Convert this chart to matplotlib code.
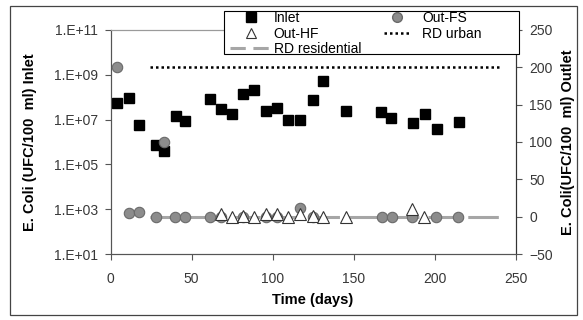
#%%
import numpy as np
import matplotlib.pyplot as plt
from matplotlib.lines import Line2D
from matplotlib.patches import Rectangle

plt.rcParams['font.family'] = ['Liberation Sans', 'DejaVu Sans']

# ---- donnees ----
# Inlet (axe gauche, log)
inlet_days = [3.7, 11.5, 17.7, 27.8, 32.9, 40.1, 46.1, 61.1, 68.1, 74.9, 81.7, 88.7,
              95.9, 102.7, 109.7, 117.1, 124.8, 131.3, 145.2, 167.0, 172.9, 186.9,
              194.3, 201.4, 215.3]
inlet_log = [7.75, 7.95, 6.75, 5.85, 5.60, 7.15, 6.95, 7.92, 7.49, 7.26, 8.14, 8.32,
             7.38, 7.53, 7.00, 6.97, 7.88, 8.72, 7.38, 7.34, 7.06, 6.83, 7.26, 6.59, 6.91]
inlet = [10 ** v for v in inlet_log]

# Out-FS (axe droit)
fs_days = [4.1, 11.5, 17.7, 28.0, 32.9, 39.7, 45.9, 61.1, 68.0, 81.5, 95.9, 102.7,
           116.9, 124.8, 167.4, 173.6, 185.9, 201.0, 214.7]
fs_vals = [200, 5, 6, 0, 100, 0, 0, 0, 0, 0, 0, 0, 11, 0, 0, 0, 0, 0, 0]

# Out-HF (axe droit)
hf_days = [68.1, 74.7, 81.5, 88.7, 95.9, 102.7, 109.7, 117.1, 124.8, 131.3, 145.2,
           186.0, 193.7]
hf_vals = [4, 0, 1, 0, 3, 4, 0, 3, 1, 0, 0, 10, 0]

# lignes de reference
rd_urban_x = [24, 240]
rd_urban_y = [200, 200]
rd_res_x = [24, 243]
rd_res_y = [0, 0]

x_ticks = [0, 50, 100, 150, 200, 250]
left_ticks = [1e1, 1e3, 1e5, 1e7, 1e9, 1e11]
left_labels = ['1.E+01', '1.E+03', '1.E+05', '1.E+07', '1.E+09', '1.E+11']
right_ticks = [-50, 0, 50, 100, 150, 200, 250]

#%%
W, H = 583, 320
fig = plt.figure(figsize=(W / 100, H / 100), dpi=100)
ax = fig.add_axes([110.7 / W, 1 - 254 / H, (515.5 - 110.7) / W, (254 - 30) / H])
ax2 = ax.twinx()

tick_col = '#383838'
fs_face, fs_edge = '#8c8c8c', '#6a6a6a'
res_col = '#a6a6a6'

# Inlet
ax.plot(inlet_days, inlet, ls='none', marker='s', ms=7, mfc='black', mec='black',
        zorder=3)
ax.set_yscale('log')
ax.set_ylim(1e1, 1e11)
ax.set_yticks(left_ticks)
ax.set_yticklabels(left_labels)
ax.minorticks_off()
ax.set_xlim(0, 250)
ax.set_xticks(x_ticks)

# axe droit
ax2.plot(rd_res_x, rd_res_y, color=res_col, lw=2.2, dashes=(10, 3), zorder=1)
ax2.plot(rd_urban_x, rd_urban_y, color='black', lw=1.8, ls=(0, (1, 1.2)), zorder=1)
ax2.plot(fs_days, fs_vals, ls='none', marker='o', ms=7.5,
         mfc=fs_face, mec=fs_edge, mew=0.8, zorder=3)
ax2.plot(hf_days, hf_vals, ls='none', marker='^', ms=8, mfc='white', mec='#333333',
         mew=0.8, zorder=4)
ax2.set_ylim(-50, 250)
ax2.set_yticks(right_ticks)

# style des axes
for a in (ax, ax2):
    a.spines['top'].set_color('#9a9a9a')
    a.spines['left'].set_color('#555555')
    a.spines['right'].set_color('#333333')
    a.spines['bottom'].set_color('#555555')
    a.tick_params(direction='out', length=4, width=0.8, colors='#555555',
                  labelcolor=tick_col, labelsize=10)
ax.tick_params(axis='x', pad=9)
ax.tick_params(axis='y', pad=5)
ax2.tick_params(axis='y', pad=6)

ax.set_xlabel('Time (days)', fontsize=10.5, fontweight='bold', labelpad=5)
ax.set_ylabel('E. Coli (UFC/100  ml) Inlet', fontsize=10.5, fontweight='bold',
              labelpad=12)
ax2.set_ylabel('E. Coli(UFC/100  ml) Outlet', fontsize=10.5, fontweight='bold',
               labelpad=6)

# legende : cadre dessine a part + deux colonnes sans cadre
fig.patches.append(Rectangle((224 / W, 1 - 54 / H), (519 - 224) / W, (54 - 10.7) / H,
                             transform=fig.transFigure, facecolor='white',
                             edgecolor='black', lw=0.8, zorder=4))

h_inlet = Line2D([], [], ls='none', marker='s', ms=7, mfc='black', mec='black')
h_hf = Line2D([], [], ls='none', marker='^', ms=7.5, mfc='white', mec='#333333', mew=0.8)
h_res = Line2D([], [], color=res_col, lw=2.2, dashes=(5, 2.5))
h_fs = Line2D([], [], ls='none', marker='o', ms=7, mfc=fs_face, mec=fs_edge)
h_urb = Line2D([], [], color='black', lw=1.8, ls=(0, (1, 1.2)))

leg1 = fig.legend([h_inlet, h_hf, h_res], ['Inlet', 'Out-HF', 'RD residential'],
                  loc='upper left', bbox_to_anchor=(230 / W, 1 - 11 / H),
                  fontsize=10, frameon=False, borderpad=0, labelspacing=0.12,
                  handlelength=3.0, handletextpad=0.15, borderaxespad=0)
leg2 = fig.legend([h_fs, h_urb], ['Out-FS', 'RD urban'],
                  loc='upper left', bbox_to_anchor=(384 / W, 1 - 11 / H),
                  fontsize=10, frameon=False, borderpad=0, labelspacing=0.12,
                  handlelength=1.9, handletextpad=0.85, borderaxespad=0)
leg1.set_zorder(6)
leg2.set_zorder(6)

# cadre exterieur
fig.patches.append(Rectangle((10 / W, 5 / H), 1 - 16 / W, 1 - 11 / H,
                             transform=fig.transFigure, fill=False,
                             edgecolor='#444444', lw=0.9))

fig.savefig('out.png', dpi=100)
